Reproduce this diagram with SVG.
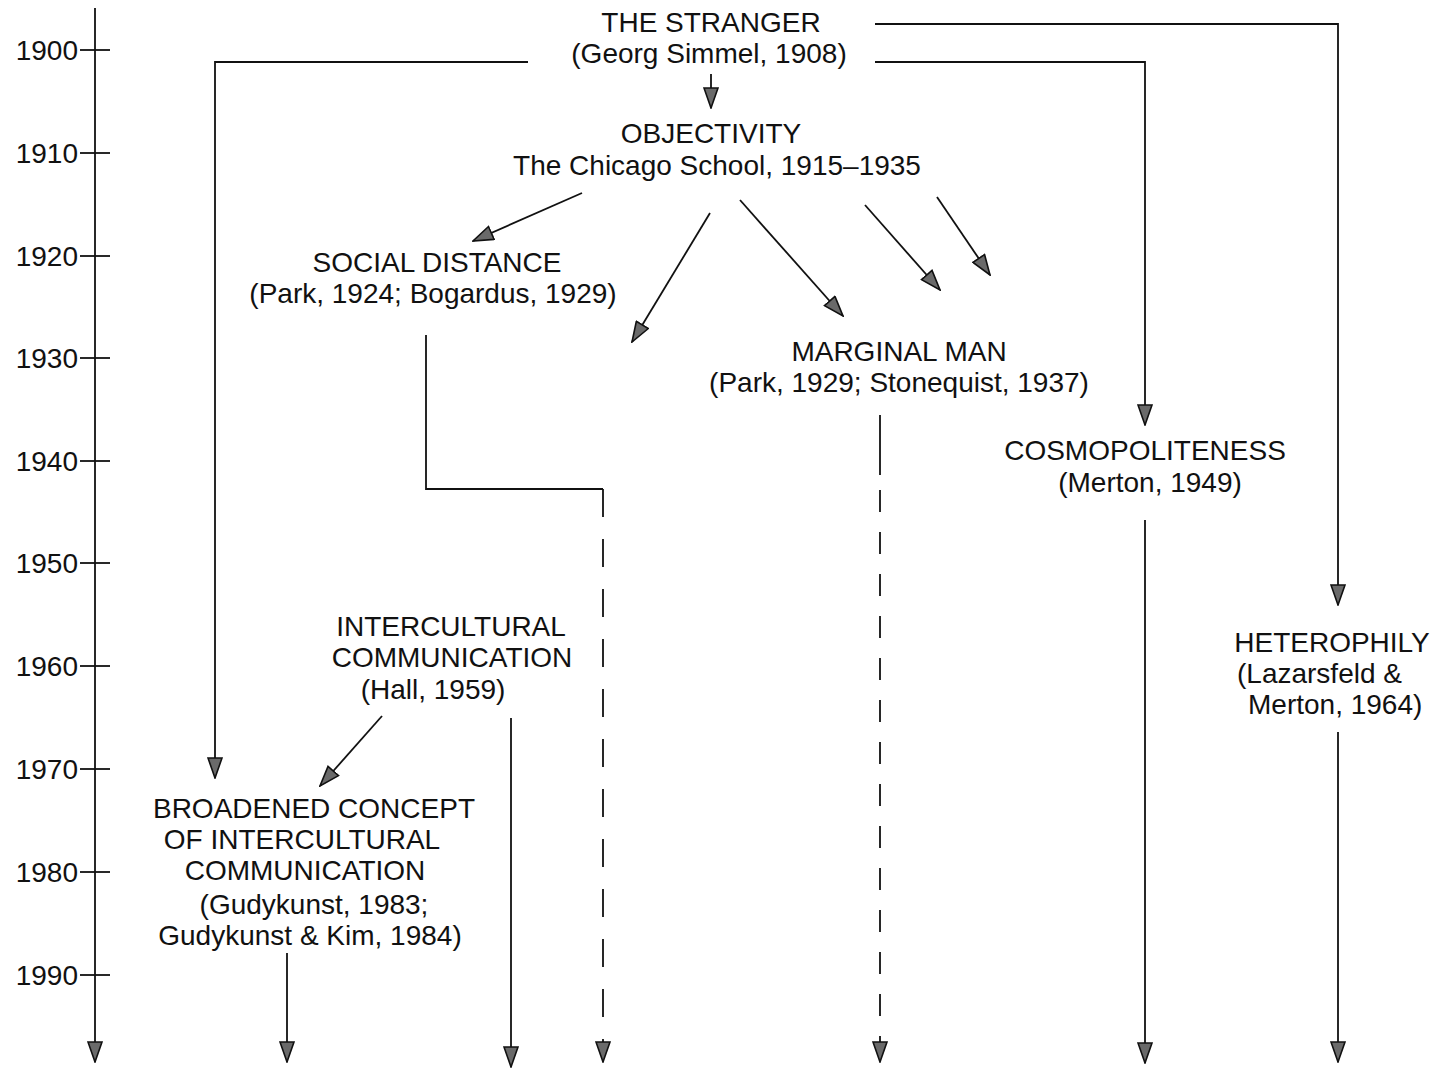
<svg xmlns="http://www.w3.org/2000/svg" width="1449" height="1069" viewBox="0 0 1449 1069">
<style>
text{font-family:"Liberation Sans",Arial,sans-serif;font-size:28px;fill:#111}
.c{text-anchor:middle}
.yr{text-anchor:end}
.ln{stroke:#111;stroke-width:1.8;fill:none}
.d1{stroke-dasharray:28 22}
.d2{stroke-dasharray:22 20}
</style>
<defs>
<marker id="ah" viewBox="0 0 22 16" refX="21" refY="8" markerWidth="22" markerHeight="16" markerUnits="userSpaceOnUse" orient="auto">
<path d="M1,1 L21,8 L1,15 Z" fill="#6a6a6a" stroke="#111" stroke-width="1.6" stroke-linejoin="miter"/>
</marker>
</defs>
<rect width="1449" height="1069" fill="#fff"/>
<g id="timeline">
<line class="ln" x1="95" y1="8" x2="95" y2="1062" marker-end="url(#ah)"/>
<g class="ln">
<line x1="80" y1="50" x2="110" y2="50"/>
<line x1="80" y1="153" x2="110" y2="153"/>
<line x1="80" y1="256" x2="110" y2="256"/>
<line x1="80" y1="358" x2="110" y2="358"/>
<line x1="80" y1="461" x2="110" y2="461"/>
<line x1="80" y1="563" x2="110" y2="563"/>
<line x1="80" y1="666" x2="110" y2="666"/>
<line x1="80" y1="769" x2="110" y2="769"/>
<line x1="80" y1="872" x2="110" y2="872"/>
<line x1="80" y1="975" x2="110" y2="975"/>
</g>
<text class="yr" x="78" y="60">1900</text>
<text class="yr" x="78" y="163">1910</text>
<text class="yr" x="78" y="266">1920</text>
<text class="yr" x="78" y="368">1930</text>
<text class="yr" x="78" y="471">1940</text>
<text class="yr" x="78" y="573">1950</text>
<text class="yr" x="78" y="676">1960</text>
<text class="yr" x="78" y="779">1970</text>
<text class="yr" x="78" y="882">1980</text>
<text class="yr" x="78" y="985">1990</text>
</g>
<g id="stranger">
<text class="c" x="711" y="32">THE STRANGER</text>
<text class="c" x="709" y="63">(Georg Simmel, 1908)</text>
</g>
<g id="objectivity">
<text class="c" x="711" y="143">OBJECTIVITY</text>
<text class="c" x="717" y="175">The Chicago School, 1915–1935</text>
</g>
<g id="social-distance">
<text class="c" x="437" y="272">SOCIAL DISTANCE</text>
<text class="c" x="433" y="303">(Park, 1924; Bogardus, 1929)</text>
</g>
<g id="marginal-man">
<text class="c" x="899" y="361">MARGINAL MAN</text>
<text class="c" x="899" y="392">(Park, 1929; Stonequist, 1937)</text>
</g>
<g id="cosmopoliteness">
<text class="c" x="1145" y="460">COSMOPOLITENESS</text>
<text class="c" x="1150" y="492">(Merton, 1949)</text>
</g>
<g id="intercultural">
<text class="c" x="451" y="636">INTERCULTURAL</text>
<text class="c" x="452" y="667">COMMUNICATION</text>
<text class="c" x="433" y="699">(Hall, 1959)</text>
</g>
<g id="heterophily">
<text class="c" x="1332" y="652">HETEROPHILY</text>
<text x="1237" y="683">(Lazarsfeld &amp;</text>
<text x="1248" y="714">Merton, 1964)</text>
</g>
<g id="broadened">
<text class="c" x="314" y="818">BROADENED CONCEPT</text>
<text class="c" x="302" y="849">OF INTERCULTURAL</text>
<text class="c" x="305" y="880">COMMUNICATION</text>
<text class="c" x="314" y="914">(Gudykunst, 1983;</text>
<text class="c" x="310" y="945">Gudykunst &amp; Kim, 1984)</text>
</g>
<g id="connectors">
<polyline class="ln" points="528,62 215,62 215,778" marker-end="url(#ah)"/>
<polyline class="ln" points="875,24 1338,24 1338,605" marker-end="url(#ah)"/>
<polyline class="ln" points="875,62 1145,62 1145,425" marker-end="url(#ah)"/>
<line class="ln" x1="711" y1="74" x2="711" y2="108" marker-end="url(#ah)"/>
<line class="ln" x1="582" y1="193" x2="473" y2="241" marker-end="url(#ah)"/>
<line class="ln" x1="710" y1="213" x2="632" y2="342" marker-end="url(#ah)"/>
<line class="ln" x1="740" y1="200" x2="843" y2="316" marker-end="url(#ah)"/>
<line class="ln" x1="865" y1="205" x2="940" y2="290" marker-end="url(#ah)"/>
<line class="ln" x1="937" y1="197" x2="990" y2="275" marker-end="url(#ah)"/>
<polyline class="ln" points="426,335 426,489 603,489"/>
<line class="ln d1" x1="603" y1="489" x2="603" y2="1062" marker-end="url(#ah)"/>
<line class="ln" x1="382" y1="716" x2="320" y2="786" marker-end="url(#ah)"/>
<line class="ln" x1="511" y1="718" x2="511" y2="1067" marker-end="url(#ah)"/>
<line class="ln" x1="287" y1="953" x2="287" y2="1062" marker-end="url(#ah)"/>
<line class="ln" x1="880" y1="415" x2="880" y2="475"/>
<line class="ln d2" x1="880" y1="490" x2="880" y2="1062" marker-end="url(#ah)"/>
<line class="ln" x1="1145" y1="520" x2="1145" y2="1063" marker-end="url(#ah)"/>
<line class="ln" x1="1338" y1="732" x2="1338" y2="1062" marker-end="url(#ah)"/>
</g>
</svg>
